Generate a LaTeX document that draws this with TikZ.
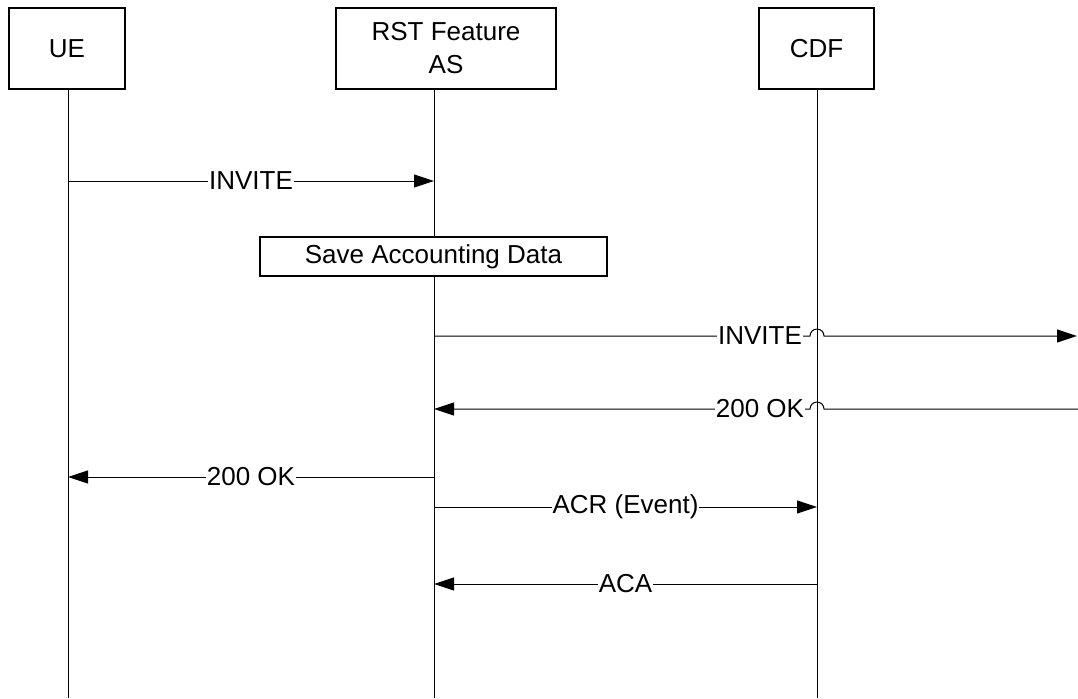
\documentclass[tikz,border=0pt]{standalone}
\usepackage{fontspec}
\setmainfont{Liberation Sans}
\usetikzlibrary{arrows.meta}
\begin{document}
\begin{tikzpicture}[x=0.5pt,y=-0.5pt,
  font=\fontsize{13pt}{16.5pt}\selectfont,
  actor/.style={draw, line width=0.6pt, align=center, minimum height=40.5pt, inner sep=0pt},
  note/.style={draw, line width=0.6pt, fill=white, minimum width=173.5pt, minimum height=19.5pt, inner sep=0pt},
  life/.style={line width=0.5pt},
  msg/.style={line width=0.5pt, -{Triangle[length=10pt,width=6.5pt]}},
  lbl/.style={fill=white, inner xsep=0.5pt, inner ysep=1pt}]
\useasboundingbox (0,0) rectangle (1078,698);
% actors
\node[actor, minimum width=58pt] (ue) at (67,48.5) {UE};
\node[actor, minimum width=110pt] (rst) at (446,48.5) {RST Feature\\AS};
\node[actor, minimum width=57.5pt] (cdf) at (816.5,48.5) {CDF};
% lifelines
\coordinate (ueTop) at (68,89);   \coordinate (ueBot) at (68,698);
\coordinate (rstTop) at (434,89); \coordinate (rstBot) at (434,698);
\coordinate (cdfTop) at (817,89); \coordinate (cdfBot) at (817,698);
\draw[life] (ueTop) -- (ueBot);
\draw[life] (rstTop) -- (rstBot);
\draw[life] (cdfTop) -- (cdfBot);
% INVITE UE -> AS
\coordinate (m1a) at (68,181); \coordinate (m1b) at (434,181);
\draw[msg] (m1a) -- node[lbl] (m1l) {INVITE} (m1b);
% Save accounting data
\node[note] (save) at (433.5,256.5) {Save Accounting Data};
% INVITE AS -> beyond
\coordinate (m2a) at (434,336); \coordinate (m2h) at (810,336); \coordinate (m2b) at (1077,336);
\draw[msg] (m2a) -- (m2h) arc[start angle=180, end angle=0, radius=3.5pt] -- (m2b);
\node[lbl] (m2l) at (760,336) {INVITE};
% 200 OK beyond -> AS
\coordinate (m3a) at (1078,409); \coordinate (m3h) at (824,409); \coordinate (m3b) at (434,409);
\draw[msg] (m3a) -- (m3h) arc[start angle=0, end angle=180, radius=3.5pt] -- (m3b);
\node[lbl] (m3l) at (760,409) {200 OK};
% 200 OK AS -> UE
\coordinate (m4a) at (434,477); \coordinate (m4b) at (68,477);
\draw[msg] (m4a) -- node[lbl] (m4l) {200 OK} (m4b);
% ACR
\coordinate (m5a) at (434,507); \coordinate (m5b) at (817,507);
\draw[msg] (m5a) -- node[lbl] (m5l) {ACR (Event)} (m5b);
% ACA
\coordinate (m6a) at (817,584); \coordinate (m6b) at (434,584);
\draw[msg] (m6a) -- node[lbl] (m6l) {ACA} (m6b);
\end{tikzpicture}
\end{document}
